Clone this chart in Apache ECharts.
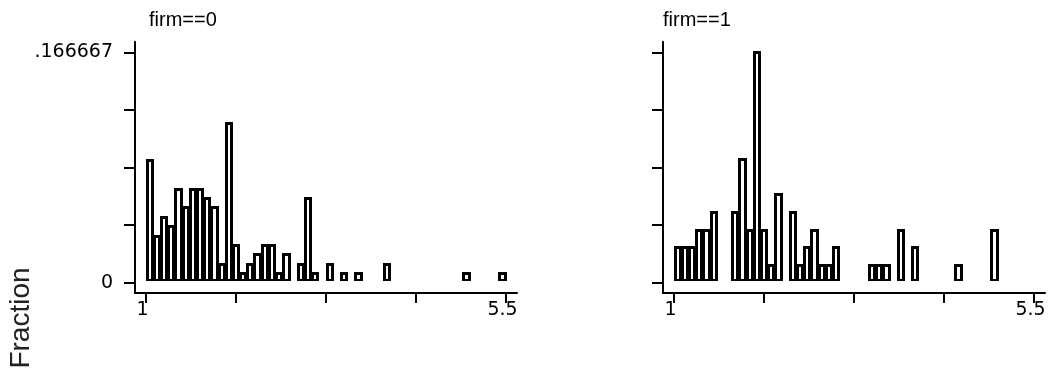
<!DOCTYPE html>
<html>
<head>
<meta charset="utf-8">
<script src="https://cdn.jsdelivr.net/npm/echarts@6/dist/echarts.min.js"></script>
<style>
  html, body { margin: 0; padding: 0; background: #fff; }
  #chart { width: 1050px; height: 373px; }
</style>
</head>
<body>
<div id="chart"></div>
<script>
// histogram bins: 50 bins from 1 to 5.5
const binStart = 1
const binWidth = 0.09
const panelTitles = ['firm==0', 'firm==1']
// counts per bin (fraction = count / total)
const countsFirm0 = [13, 5, 7, 6, 10, 8, 10, 10, 9, 8, 2, 17, 4, 1, 2, 3, 4, 4, 1, 3,
                     0, 2, 9, 1, 0, 2, 0, 1, 0, 1, 0, 0, 0, 2, 0, 0, 0, 0, 0, 0,
                     0, 0, 0, 0, 1, 0, 0, 0, 0, 1]
const countsFirm1 = [2, 2, 2, 3, 3, 4, 0, 0, 4, 7, 3, 13, 3, 1, 5, 0, 4, 1, 2, 3,
                     1, 1, 2, 0, 0, 0, 0, 1, 1, 1, 0, 3, 0, 2, 0, 0, 0, 0, 0, 1,
                     0, 0, 0, 0, 3, 0, 0, 0, 0, 0]
const xTickValues = [1, 2.125, 3.25, 4.375, 5.5]
const xLabelValues = [1, 5.5]
const xLabelText = ['1', '5.5']
const yTickValues = [0, 0.0416667, 0.0833333, 0.125, 0.166667]
const yLabelValues = [0, 0.166667]
const yLabelText = ['0', '.166667']

const toBins = (counts) => {
    const total = counts.reduce((a, b) => a + b, 0)
    return counts.map((c, i) => [binStart + i * binWidth, binStart + (i + 1) * binWidth, c / total])
}

const pickLabel = (values, texts) => (v) => {
    const i = values.findIndex(t => Math.abs(t - v) < 1e-6)
    return i < 0 ? '' : texts[i]
}

// black outlined bar, white inside (stata style)
const renderBar = (params, api) => {
    const v = api.value(2)
    if (!v) return null
    const p0 = api.coord([api.value(0), v])
    const p1 = api.coord([api.value(1), 0])
    const L = Math.round(p0[0] - 0.5)
    const R = Math.round(p1[0] + 0.5)
    const T = Math.round(p0[1] - 1)
    const B = Math.round(p1[1] - 1.5)
    const kids = [{
        type: 'rect',
        shape: { x: L, y: T, width: R - L, height: B - T },
        style: { fill: '#000' }
    }]
    if (R - L - 6 > 0 && B - T - 5 > 0) {
        kids.push({
            type: 'rect',
            shape: { x: L + 3, y: T + 3, width: R - L - 6, height: B - T - 5 },
            style: { fill: '#fff' }
        })
    }
    return { type: 'group', children: kids }
}

const tickFont = { fontFamily: 'DejaVu Sans', fontSize: 19, color: '#000' }
const axisLineStyle = { color: '#000', width: 2 }
const titleFont = { fontFamily: 'Liberation Sans', fontSize: 20, fontWeight: 'normal', color: '#000' }

const mkX = (gi) => ({
    type: 'value', gridIndex: gi,
    min: 0.8625, max: 5.6375,
    splitLine: { show: false },
    axisLine: { onZero: false, lineStyle: axisLineStyle },
    axisTick: { customValues: xTickValues, length: 10, lineStyle: axisLineStyle },
    axisLabel: { customValues: xLabelValues, margin: 8, padding: [0, 7, 0, 0],
                 formatter: pickLabel(xLabelValues, xLabelText), ...tickFont }
})
const mkY = (gi) => ({
    type: 'value', gridIndex: gi,
    min: -0.00745, max: 0.17434,
    splitLine: { show: false },
    axisLine: { onZero: false, lineStyle: axisLineStyle },
    axisTick: { customValues: yTickValues, length: 11, lineStyle: axisLineStyle },
    axisLabel: { show: gi === 0, customValues: yLabelValues, margin: 22,
                 formatter: pickLabel(yLabelValues, yLabelText), ...tickFont }
})

const myChart = echarts.init(document.getElementById('chart'), null, { renderer: 'canvas' })
myChart.setOption({
    backgroundColor: '#fff',
    animation: false,
    title: [
        { text: panelTitles[0], left: 149, top: 10, padding: 0, textStyle: titleFont },
        { text: panelTitles[1], left: 663, top: 10, padding: 0, textStyle: titleFont }
    ],
    grid: [
        { left: 135, top: 41.7, width: 382, height: 251.3 },
        { left: 663, top: 41.7, width: 382, height: 251.3 }
    ],
    xAxis: [mkX(0), mkX(1)],
    yAxis: [mkY(0), mkY(1)],
    graphic: [{
        type: 'text',
        x: 21, y: 318,
        rotation: Math.PI / 2,
        style: {
            text: 'Fraction',
            font: '28px "Liberation Sans"',
            fill: '#222',
            textAlign: 'center',
            textVerticalAlign: 'middle'
        }
    }],
    series: [
        { type: 'custom', xAxisIndex: 0, yAxisIndex: 0, renderItem: renderBar,
          encode: { x: [0, 1], y: 2 }, data: toBins(countsFirm0) },
        { type: 'custom', xAxisIndex: 1, yAxisIndex: 1, renderItem: renderBar,
          encode: { x: [0, 1], y: 2 }, data: toBins(countsFirm1) }
    ]
})
</script>
</body>
</html>
